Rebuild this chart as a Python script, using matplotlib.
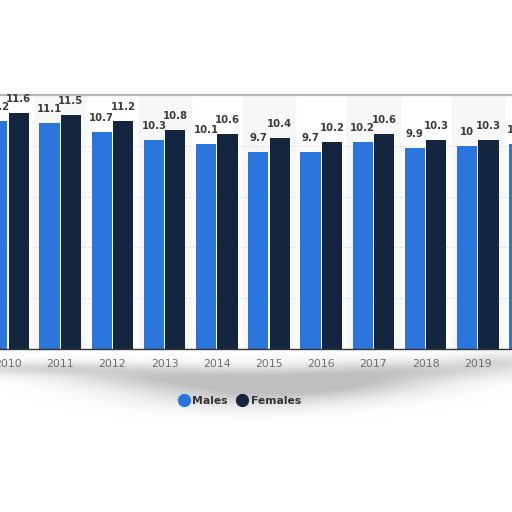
import matplotlib.pyplot as plt
import numpy as np
from matplotlib.lines import Line2D

years = [2009, 2010, 2011, 2012, 2013, 2014, 2015, 2016, 2017, 2018, 2019, 2020]
males = [11.6, 11.2, 11.1, 10.7, 10.3, 10.1, 9.7, 9.7, 10.2, 9.9, 10.0, 10.1]
females = [12.0, 11.6, 11.5, 11.2, 10.8, 10.6, 10.4, 10.2, 10.6, 10.3, 10.3, 10.4]
male_labels = ['11.6', '11.2', '11.1', '10.7', '10.3', '10.1', '9.7', '9.7', '10.2', '9.9', '10', '10.1']
female_labels = ['12', '11.6', '11.5', '11.2', '10.8', '10.6', '10.4', '10.2', '10.6', '10.3', '10.3', '10.4']

male_color = '#2a76dc'
female_color = '#14263f'

fig = plt.figure(figsize=(5.12, 5.12), dpi=100)

# soft grey "torn paper" shadow behind the axis labels and legend
bg = fig.add_axes([0, 0, 1, 1], zorder=-1)
gx, gy = np.meshgrid(np.arange(512), np.arange(512))
blobs = [(40, 368, 70, 5, 0.35), (160, 376, 70, 8, 0.40), (250, 390, 80, 12, 0.50),
         (340, 380, 70, 10, 0.45), (430, 369, 70, 7, 0.35), (500, 360, 30, 6, 0.25)]
shade = np.zeros((512, 512))
for bx, by, sx, sy, a in blobs:
    shade += a * np.exp(-(((gx - bx) / sx) ** 2 + ((gy - by) / sy) ** 2) / 2)
shade = np.clip(shade, 0, 0.6)
bg.imshow(1 - 0.42 * shade, cmap='gray', vmin=0, vmax=1, extent=(0, 512, 512, 0), aspect='auto')
bg.set_xlim(0, 512)
bg.set_ylim(512, 0)
bg.axis('off')

# axes placed so the chart looks cropped on both sides
px = 52.2
left_lim = 2010 - 8 / px
right_lim = 2010 + 504 / px
ax = fig.add_axes([0, 163 / 512, 1, 254 / 512])

x = np.array(years, dtype=float)
w = 0.39
off = 0.205

# faint alternating column shading
for yr in years:
    if yr % 2 == 1:
        ax.axvspan(yr - 0.5, yr + 0.5, color='#f7f7f7', zorder=0)

ax.bar(x - off, males, width=w, color=male_color, zorder=2)
ax.bar(x + off, females, width=w, color=female_color, zorder=2)

for xi, m, f, ml, fl in zip(x, males, females, male_labels, female_labels):
    ax.annotate(ml, (xi - off, m), xytext=(0, 6.5), textcoords='offset points',
                ha='center', va='bottom', fontsize=7.3, fontweight='bold',
                color='#3a3a3a', annotation_clip=False)
    ax.annotate(fl, (xi + off, f), xytext=(0, 6.5), textcoords='offset points',
                ha='center', va='bottom', fontsize=7.3, fontweight='bold',
                color='#3a3a3a', annotation_clip=False)

ax.set_yticks([2.5, 5, 7.5, 10])
ax.yaxis.grid(True, linestyle=(0, (1, 2)), color='#cfcfcf', linewidth=0.7, zorder=1)
ax.tick_params(axis='y', left=False, labelleft=False)
ax.set_xticks(years)
ax.set_xticklabels([str(y) for y in years])
ax.tick_params(axis='x', length=0, pad=7, labelsize=7.8, labelcolor='#6e6e6e')
ax.set_xlim(left_lim, right_lim)
ax.set_ylim(0, 12.5)

for s in ['left', 'right']:
    ax.spines[s].set_visible(False)
ax.spines['top'].set_color('#b5b5b5')
ax.spines['top'].set_linewidth(1.6)
ax.spines['bottom'].set_color('#333333')
ax.spines['bottom'].set_linewidth(1.0)

handles = [Line2D([], [], marker='o', linestyle='', markersize=8.5, color=male_color),
           Line2D([], [], marker='o', linestyle='', markersize=8.5, color=female_color)]
leg = fig.legend(handles, ['Males', 'Females'], loc='center',
                 bbox_to_anchor=(240 / 512, 1 - 401 / 512), ncol=2, frameon=False,
                 fontsize=7.8, handlelength=0.9, columnspacing=0.9, handletextpad=0.3)
for t in leg.get_texts():
    t.set_color('#333333')
    t.set_fontweight('bold')

fig.savefig('out.png', dpi=100)
